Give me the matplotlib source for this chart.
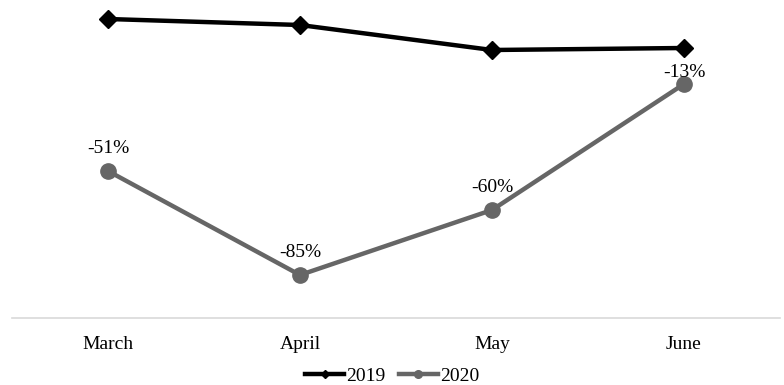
import matplotlib.pyplot as plt
import numpy as np

months = ['March', 'April', 'May', 'June']
y2019 = [299, 293, 268, 270]
y2020 = [147, 43, 108, 234]

# label offset above each 2020 point (points)
label_dy = [13, 13, 13, 5]

plt.rcParams['font.family'] = ['Liberation Serif', 'DejaVu Serif']

fig = plt.figure(figsize=(7.84, 3.85), dpi=100)
ax = fig.add_axes([12 / 784, 67 / 385, 768 / 784, 318 / 385])

x = np.arange(len(months))
ax.plot(x, y2019, color='black', lw=3.2, marker='D', ms=9, label='2019')
ax.plot(x, y2020, color='#666666', lw=3.2, marker='o', ms=11, label='2020')

# percent change 2020 vs 2019 above each 2020 point
for xi, a, b, dy in zip(x, y2019, y2020, label_dy):
    pct = round((b / a - 1) * 100)
    ax.annotate(f'{pct}%', (xi, b), xytext=(0, dy), textcoords='offset points',
                ha='center', va='baseline', fontsize=14)

ax.set_xlim(-0.5, 3.5)
ax.set_ylim(0, 318)
ax.set_xticks(x)
ax.set_xticklabels(months, fontsize=14)
ax.tick_params(axis='x', length=0, pad=13)
ax.set_yticks([])
for s in ['top', 'right', 'left']:
    ax.spines[s].set_visible(False)
ax.spines['bottom'].set_color('#d9d9d9')
ax.spines['bottom'].set_linewidth(1.2)

h, l = ax.get_legend_handles_labels()
fig.legend(h, l, loc='lower center', bbox_to_anchor=(0.5, -0.046), ncol=2, frameon=False,
           fontsize=14, handlelength=2.0, handletextpad=0.1, columnspacing=0.7,
           markerscale=0.5)

fig.savefig('out.png', dpi=100)
